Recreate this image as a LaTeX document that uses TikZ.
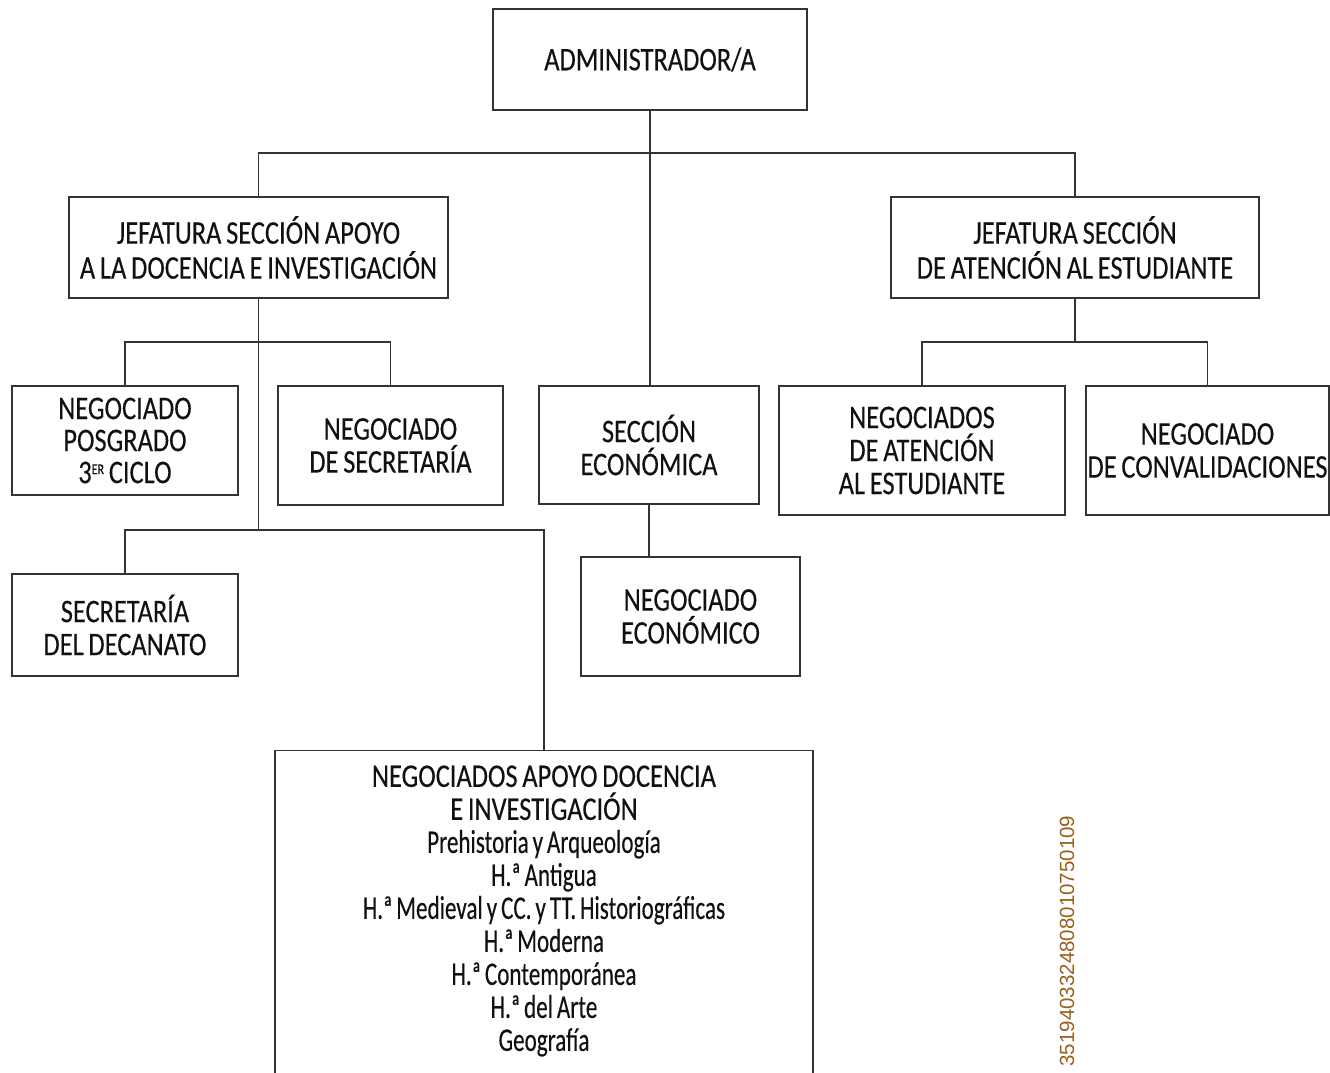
\documentclass[tikz,border=0pt]{standalone}
\usepackage{fontspec}
\setmainfont{Carlito}[FakeStretch=0.80,FakeBold=0.25,WordSpace=0.8]
\newfontfamily\lcfont{Carlito}[FakeStretch=0.70,FakeBold=0.25,WordSpace=0.75]
\newfontfamily\numfont{Liberation Sans}
\definecolor{ln}{HTML}{333333}
\definecolor{tx}{HTML}{111111}
\definecolor{codecol}{HTML}{9C5F1A}
\begin{document}
\begin{tikzpicture}[x=1pt,y=-1pt,
  box/.style={draw=ln, line width=1.3pt, align=center, inner sep=0pt, text=tx,
    font=\fontsize{33}{33}\selectfont},
  txt/.style={align=center, inner sep=0pt, text=tx, font=\fontsize{33}{33}\selectfont},
  conn/.style={draw=ln, line width=1.3pt}]
\useasboundingbox (0,0) rectangle (1330,1073);
\clip (0,0) rectangle (1330,1073);
\fill[white] (0,0) rectangle (1330,1073);

% boxes
\node[box, minimum width=314pt, minimum height=101pt] (admin) at (650,59.5) {ADMINISTRADOR/A};
\node[box, minimum width=379pt, minimum height=101pt, font=\fontsize{33}{35}\selectfont] (jefa1) at (258.5,247.5)
  {JEFATURA SECCIÓN APOYO\\A LA DOCENCIA E INVESTIGACIÓN};
\node[box, minimum width=368pt, minimum height=101pt, font=\fontsize{33}{35}\selectfont] (jefa2) at (1075,247.5)
  {JEFATURA SECCIÓN\\DE ATENCIÓN AL ESTUDIANTE};
\node[box, minimum width=226pt, minimum height=109pt, font=\fontsize{33}{32}\selectfont] (posg) at (125,440.5)
  {NEGOCIADO\\POSGRADO\\3\raisebox{9pt}{\fontsize{15}{15}\selectfont ER} CICLO};
\node[box, minimum width=225pt, minimum height=119pt] (secr) at (390.5,445.5)
  {NEGOCIADO\\DE SECRETARÍA};
\node[box, minimum width=220pt, minimum height=118pt] (secc) at (649,445)
  {SECCIÓN\\ECONÓMICA};
\node[box, minimum width=219pt, minimum height=119pt] (neco) at (690.5,616.5)
  {NEGOCIADO\\ECONÓMICO};
\node[box, minimum width=286pt, minimum height=129pt] (natn) at (922,450.5)
  {NEGOCIADOS\\DE ATENCIÓN\\AL ESTUDIANTE};
\node[box, minimum width=243pt, minimum height=129pt] (conv) at (1207.5,450.5)
  {NEGOCIADO\\DE CONVALIDACIONES};
\node[box, minimum width=226pt, minimum height=102pt] (deca) at (125,625)
  {SECRETARÍA\\DEL DECANATO};
\node[box, minimum width=538pt, minimum height=380pt, anchor=north] (apoyo) at (544,750) {};
\node[txt] (apoyotxt) at (544,911)
  {NEGOCIADOS APOYO DOCENCIA\\E INVESTIGACIÓN\\{\lcfont Prehistoria y Arqueología}\\{\lcfont H.ª Antigua}\\
   {\lcfont H.ª Medieval y CC. y TT. Historiográficas}\\{\lcfont H.ª Moderna}\\{\lcfont H.ª Contemporánea}\\{\lcfont H.ª del Arte}\\{\lcfont Geografía}};

% bus coordinates
\coordinate (b0) at (650,153);
\coordinate (b1) at (258.5,342);
\coordinate (b2) at (258.5,530);
\coordinate (b3) at (1075,342);

% connectors
\draw[conn] (admin.south) -- (admin.south |- secc.north);
\draw[conn] (jefa1.north) |- (b0) -| (jefa2.north);
\draw[conn] (jefa1.south) -- (b2);
\draw[conn] (posg.north) |- (b1) -| (secr.north);
\draw[conn] (deca.north) |- (b2) -| (apoyo.north);
\draw[conn] (secc.south) -- (secc.south |- neco.north);
\draw[conn] (jefa2.south) -- (b3);
\draw[conn] (natn.north) |- (b3) -| (conv.north);

% code
\node[rotate=90, inner sep=0pt, text=codecol, font=\numfont\fontsize{20.5}{21}\selectfont] (code) at (1067,941)
  {3519403324808010750109};
\end{tikzpicture}
\end{document}
